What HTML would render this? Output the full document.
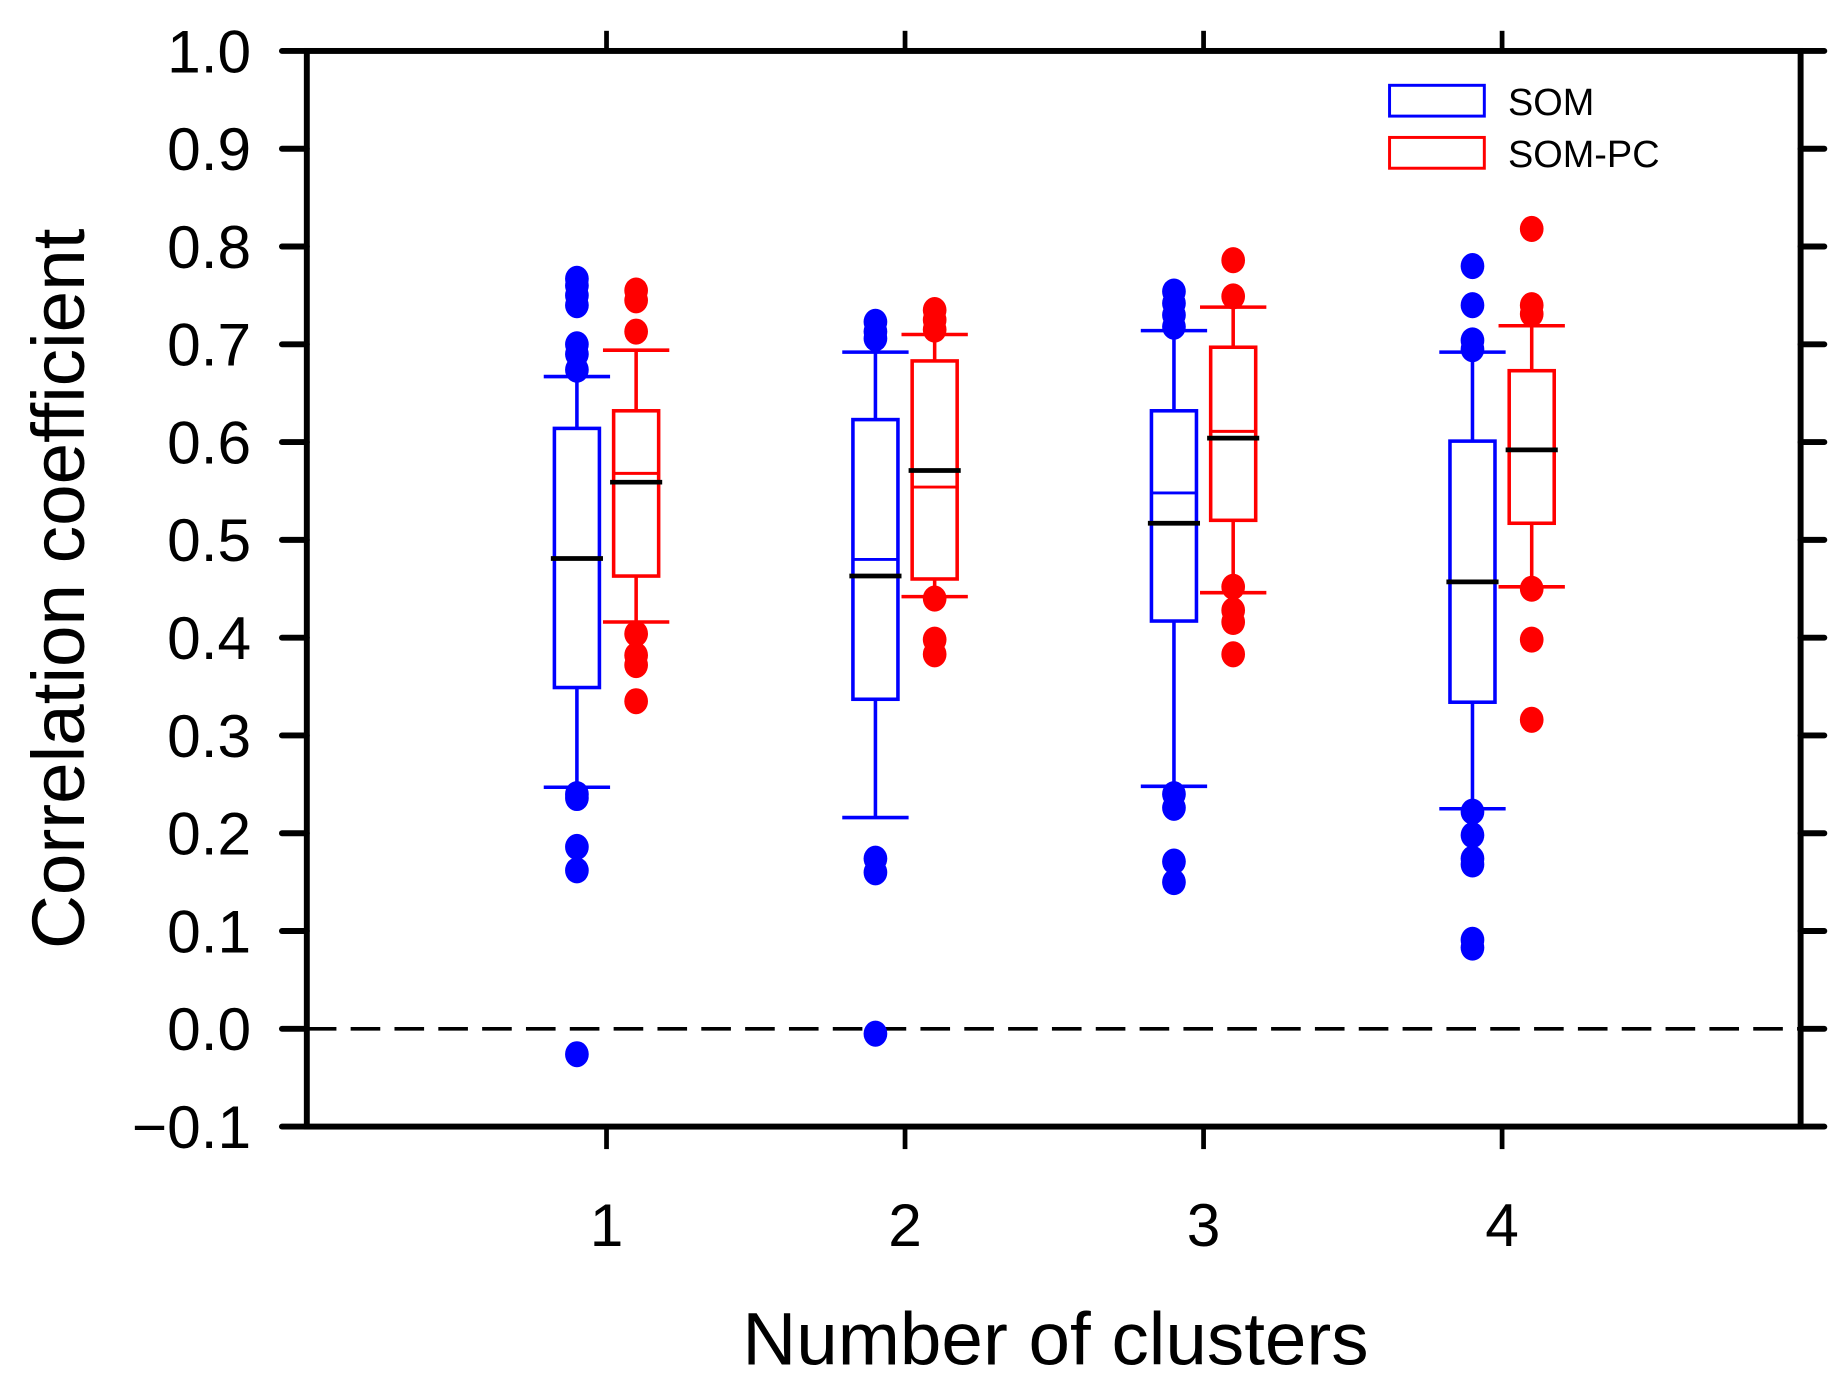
<!DOCTYPE html>
<html><head><meta charset="utf-8"><style>
html,body{margin:0;padding:0;background:#fff}
svg{display:block}
text{font-family:"Liberation Sans",Arial,sans-serif}
</style></head><body>
<svg id="chart" width="1848" height="1382" viewBox="0 0 1560 1166.6" xmlns="http://www.w3.org/2000/svg">
<g id="axes"></g>
<g id="marks"></g>
<g>
<rect x="1173" y="72" width="80" height="26" fill="none" stroke="#0000ff" stroke-width="2.5"/>
<text x="1273" y="97" font-size="32">SOM</text>
<rect x="1173" y="116" width="80" height="26" fill="none" stroke="#ff0000" stroke-width="2.5"/>
<text x="1273" y="141" font-size="32">SOM-PC</text>
</g>
<text x="891" y="1152" font-size="63" text-anchor="middle">Number of clusters</text>
<text transform="translate(71,497) rotate(-90)" font-size="63" text-anchor="middle">Correlation coefficient</text>
</svg>
<script>
const categories = [1, 2, 3, 4];
const yTicks = [1.0, 0.9, 0.8, 0.7, 0.6, 0.5, 0.4, 0.3, 0.2, 0.1, 0.0, -0.1];
const yTickLabels = ["1.0","0.9","0.8","0.7","0.6","0.5","0.4","0.3","0.2","0.1","0.0","\u22120.1"];
// [whiskerLow, q1, median, q3, whiskerHigh, mean]
const somStats = [
  [0.247, 0.349, 0.481, 0.614, 0.667, 0.481],
  [0.216, 0.337, 0.480, 0.623, 0.692, 0.463],
  [0.248, 0.417, 0.548, 0.632, 0.714, 0.517],
  [0.225, 0.334, 0.458, 0.601, 0.692, 0.457]
];
const somPcStats = [
  [0.416, 0.463, 0.568, 0.632, 0.694, 0.559],
  [0.442, 0.460, 0.554, 0.683, 0.710, 0.571],
  [0.446, 0.520, 0.611, 0.697, 0.738, 0.604],
  [0.452, 0.517, 0.592, 0.673, 0.719, 0.592]
];
const somOutliers = [
  [0.767, 0.760, 0.750, 0.740, 0.700, 0.690, 0.674, 0.240, 0.236, 0.186, 0.162, -0.026],
  [0.723, 0.713, 0.706, 0.174, 0.160, -0.005],
  [0.754, 0.742, 0.730, 0.718, 0.240, 0.226, 0.171, 0.150],
  [0.780, 0.740, 0.704, 0.695, 0.222, 0.198, 0.174, 0.168, 0.091, 0.083]
];
const somPcOutliers = [
  [0.755, 0.745, 0.713, 0.404, 0.382, 0.372, 0.335],
  [0.735, 0.725, 0.715, 0.440, 0.398, 0.383],
  [0.786, 0.749, 0.452, 0.428, 0.416, 0.383],
  [0.818, 0.740, 0.731, 0.450, 0.398, 0.316]
];

const NS = "http://www.w3.org/2000/svg";
const L = 259, R = 1520, T = 43, B = 951;
const yScale = v => T + (1.0 - v) * (B - T) / 1.1;
const xScale = c => 512 + (c - 1) * 252;
function mk(tag, attrs, parent) {
  const e = document.createElementNS(NS, tag);
  for (const k in attrs) e.setAttribute(k, attrs[k]);
  parent.appendChild(e);
  return e;
}
const axes = document.getElementById("axes");
const marks = document.getElementById("marks");

const zl = mk("line", {x1: L, x2: R, y1: yScale(0), y2: yScale(0), stroke: "#000", "stroke-width": 3, "stroke-dasharray": "25 12"}, axes);



const fr = mk("rect", {x: L, y: T, width: R - L, height: B - T, fill: "none", stroke: "#000", "stroke-width": 5}, axes);



yTicks.forEach((v, i) => {
  const y = yScale(v);
  const t1 = mk("line", {x1: 238, x2: L, y1: y, y2: y, stroke: "#000", "stroke-width": 5, "stroke-linecap": "round"}, axes);
  
  
  const t2 = mk("line", {x1: R, x2: 1540, y1: y, y2: y, stroke: "#000", "stroke-width": 5, "stroke-linecap": "round"}, axes);
  
  
  const lb = mk("text", {x: 212, y: y + 18, "font-size": 51, "text-anchor": "end"}, axes);
  lb.textContent = yTickLabels[i];
  
  
});
categories.forEach(c => {
  const x = xScale(c);
  const t1 = mk("line", {x1: x, x2: x, y1: 26, y2: T, stroke: "#000", "stroke-width": 4}, axes);
  
  
  const t2 = mk("line", {x1: x, x2: x, y1: B, y2: 970, stroke: "#000", "stroke-width": 4}, axes);
  
  
  const lb = mk("text", {x: x, y: 1052, "font-size": 51, "text-anchor": "middle"}, axes);
  lb.textContent = String(c);
  
  
});

function drawSeries(stats, outs, offset, color, name) {
  categories.forEach((c, i) => {
    const cx = xScale(c) + offset;
    const s = stats[i];
    const g = mk("g", {}, marks);
    
    
    const hw = 19, cw = 28;
    mk("line", {x1: cx, x2: cx, y1: yScale(s[0]), y2: yScale(s[1]), stroke: color, "stroke-width": 3}, g);
    mk("line", {x1: cx, x2: cx, y1: yScale(s[3]), y2: yScale(s[4]), stroke: color, "stroke-width": 3}, g);
    mk("line", {x1: cx - cw, x2: cx + cw, y1: yScale(s[0]), y2: yScale(s[0]), stroke: color, "stroke-width": 3}, g);
    mk("line", {x1: cx - cw, x2: cx + cw, y1: yScale(s[4]), y2: yScale(s[4]), stroke: color, "stroke-width": 3}, g);
    mk("rect", {x: cx - hw, y: yScale(s[3]), width: 2 * hw, height: yScale(s[1]) - yScale(s[3]), fill: "none", stroke: color, "stroke-width": 3}, g);
    mk("line", {x1: cx - hw, x2: cx + hw, y1: yScale(s[2]), y2: yScale(s[2]), stroke: color, "stroke-width": 2.5}, g);
    mk("line", {x1: cx - hw - 3, x2: cx + hw + 3, y1: yScale(s[5]), y2: yScale(s[5]), stroke: "#000", "stroke-width": 4}, g);
    outs[i].forEach(v => {
      const d = mk("ellipse", {cx: cx, cy: yScale(v), rx: 10, ry: 11, fill: color}, marks);
      
      
    });
  });
}
drawSeries(somStats, somOutliers, -25, "#0000ff", "som");
drawSeries(somPcStats, somPcOutliers, 25, "#ff0000", "som-pc");
</script>
</body></html>
